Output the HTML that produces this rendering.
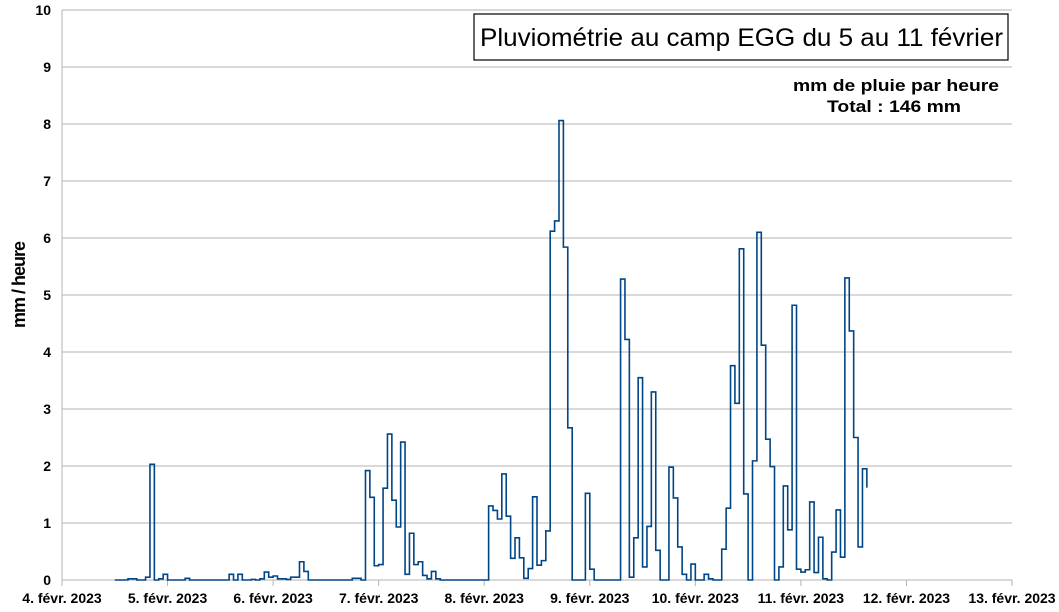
<!DOCTYPE html>
<html><head><meta charset="utf-8"><style>
html,body{margin:0;padding:0;background:#fff;}
svg{display:block;font-family:"Liberation Sans",sans-serif;}
</style></head><body>
<svg id="chart" width="1059" height="612" viewBox="0 0 1059 612">
  <g id="grid"></g>
  <g id="yticks"></g>
  <g id="xticks"></g>
  <path id="series" fill="none" stroke="#004586" stroke-width="1.6" stroke-linejoin="miter"></path>
  <text transform="translate(25,285) rotate(-90)" text-anchor="middle" font-size="18" font-weight="bold" letter-spacing="-1">mm / heure</text>
  <rect x="474" y="14" width="534" height="46" fill="#fff" stroke="#000" stroke-width="1.2"></rect>
  <text x="480" y="46" font-size="25" textLength="523" lengthAdjust="spacingAndGlyphs">Pluviométrie au camp EGG du 5 au 11 février</text>
  <text x="793" y="91" font-size="17" font-weight="bold" textLength="206" lengthAdjust="spacingAndGlyphs">mm de pluie par heure</text>
  <text x="827" y="112" font-size="17" font-weight="bold" textLength="134" lengthAdjust="spacingAndGlyphs">Total : 146 mm</text>
</svg>
<script>
const yTicks = [0,1,2,3,4,5,6,7,8,9,10];
const xTickLabels = ["4. févr. 2023","5. févr. 2023","6. févr. 2023","7. févr. 2023","8. févr. 2023","9. févr. 2023","10. févr. 2023","11. févr. 2023","12. févr. 2023","13. févr. 2023"];
const startHour = 12; // data starts 4 févr 12:00
const hourlyValues = [
0,0,0,0.02,0.02,0,0,0.05,2.03,0,
0.02,0.1,0,0,0,0,0.03,0,0,0,
0,0,0,0,0,0,0.1,0,0.1,0,
0,0.01,0,0.02,0.14,0.05,0.07,0.02,0.02,0.01,
0.05,0.05,0.32,0.15,0,0,0,0,0,0,
0,0,0,0,0.03,0.03,0,1.92,1.45,0.25,
0.27,1.61,2.56,1.4,0.93,2.42,0.1,0.82,0.27,0.32,
0.08,0.02,0.15,0.02,0,0,0,0,0,0,
0,0,0,0,0,1.3,1.22,1.07,1.86,1.12,
0.38,0.74,0.39,0.03,0.2,1.46,0.26,0.34,0.86,6.12,
6.3,8.06,5.84,2.67,0,0,0,1.52,0.19,0,
0,0,0,0,0,5.28,4.22,0.05,0.74,3.55,
0.23,0.94,3.3,0.52,0,0,1.98,1.44,0.58,0.1,
0,0.28,0,0,0.1,0.02,0,0,0.54,1.26,
3.76,3.1,5.81,1.51,0,2.09,6.1,4.12,2.47,1.99,
0,0.23,1.65,0.88,4.82,0.19,0.14,0.18,1.37,0.13,
0.75,0.02,0,0.49,1.23,0.4,5.3,4.37,2.5,0.58,
1.95,1.62
];
const NS="http://www.w3.org/2000/svg";
const X0=62, X1=1012, Y0=580, Y1=10;
const nDays = xTickLabels.length-1;
function xScale(h){return X0+(X1-X0)*h/(nDays*24);}
function yScale(v){return Y0-(Y0-Y1)*v/10;}
const grid=document.getElementById('grid'), yt=document.getElementById('yticks'), xt=document.getElementById('xticks');
yTicks.forEach(v=>{
  const l=document.createElementNS(NS,'line');
  
  
  l.setAttribute('x1',X0);l.setAttribute('x2',X1);l.setAttribute('y1',yScale(v));l.setAttribute('y2',yScale(v));
  l.setAttribute('stroke','#b3b3b3');l.setAttribute('stroke-width','1');
  grid.appendChild(l);
  const t=document.createElementNS(NS,'text');
  
  
  t.setAttribute('x',51);t.setAttribute('y',yScale(v)+5);t.setAttribute('text-anchor','end');
  t.setAttribute('font-size','14');t.setAttribute('font-weight','bold');
  t.textContent=v;yt.appendChild(t);
});
const ax=document.createElementNS(NS,'line');


ax.setAttribute('x1',X0);ax.setAttribute('x2',X0);ax.setAttribute('y1',Y1);ax.setAttribute('y2',Y0+6);
ax.setAttribute('stroke','#b3b3b3');grid.appendChild(ax);
xTickLabels.forEach((lab,i)=>{
  const x=xScale(i*24);
  const l=document.createElementNS(NS,'line');
  
  
  l.setAttribute('x1',x);l.setAttribute('x2',x);l.setAttribute('y1',Y0);l.setAttribute('y2',Y0+6);
  l.setAttribute('stroke','#b3b3b3');xt.appendChild(l);
  const t=document.createElementNS(NS,'text');
  
  
  t.setAttribute('x',x);t.setAttribute('y',603);t.setAttribute('text-anchor','middle');
  t.setAttribute('font-size','14');t.setAttribute('font-weight','bold');
  t.textContent=lab;xt.appendChild(t);
});
let d='';
hourlyValues.forEach((v,i)=>{
  const h=startHour+i;
  if(i===0){d+='M'+xScale(h)+','+yScale(v);}
  else{d+=' H'+xScale(h)+' V'+yScale(v);}
  if(i<hourlyValues.length-1){d+=' H'+xScale(h+1);}
});
document.getElementById('series').setAttribute('d',d);
</script>
</body></html>
